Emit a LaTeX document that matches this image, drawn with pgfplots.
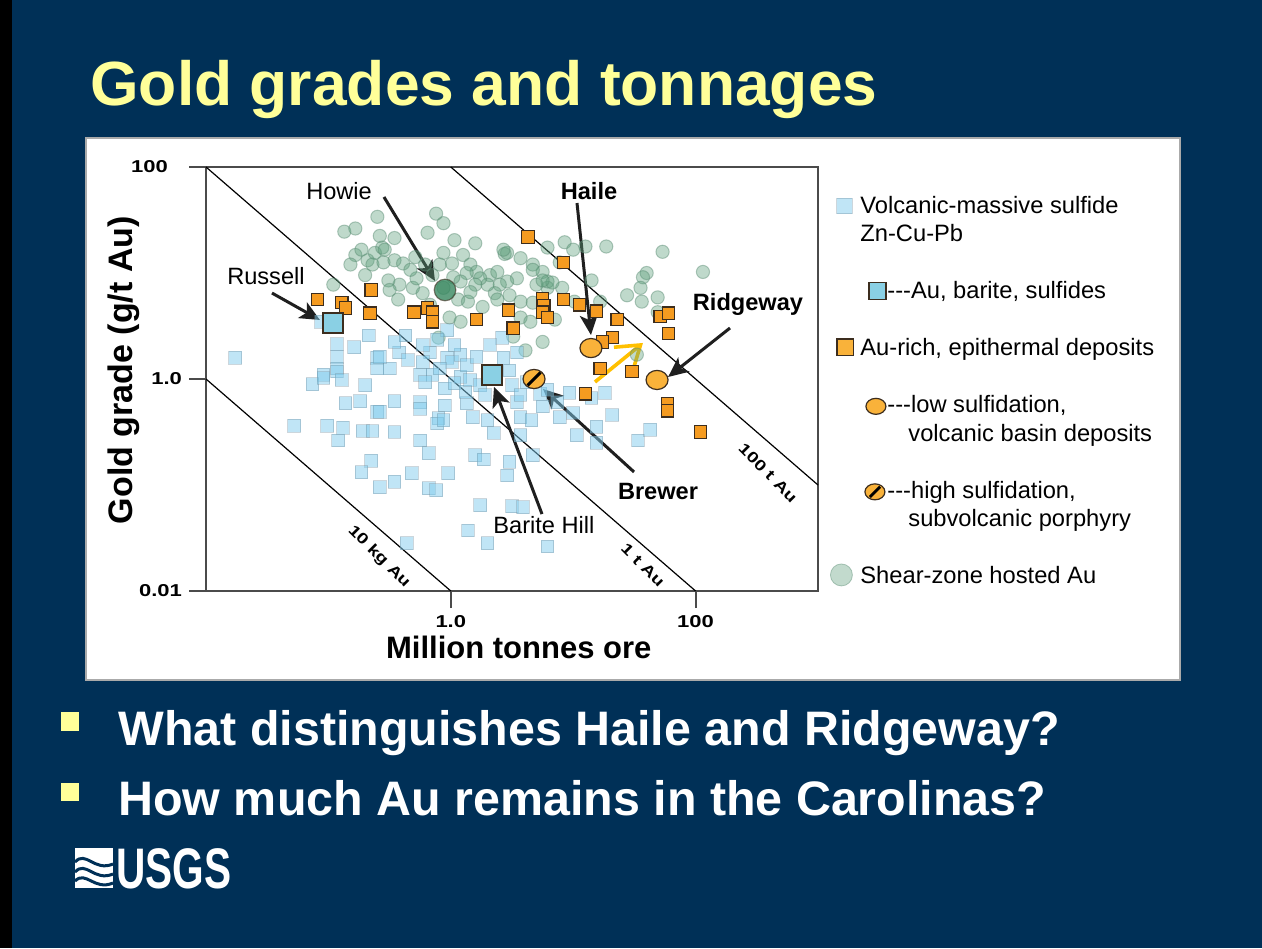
\documentclass[border=0pt]{standalone}
\usepackage{fontspec}
\setmainfont{Liberation Sans}
\newfontfamily\wideb[FakeStretch=1.28]{Liberation Sans Bold}
\usepackage{graphicx}
\usepackage{pgfplots}
\pgfplotsset{compat=1.18}
\usetikzlibrary{arrows.meta}
\definecolor{navy}{RGB}{0,48,87}
\definecolor{ttlyellow}{RGB}{255,255,153}
\definecolor{panelgray}{RGB}{170,170,170}
\definecolor{axgray}{RGB}{75,75,75}
\definecolor{vmsF}{RGB}{130,205,238}
\definecolor{vmsD}{RGB}{110,140,155}
\definecolor{grnF}{RGB}{95,160,125}
\definecolor{grnD}{RGB}{90,140,115}
\definecolor{ornF}{RGB}{245,155,32}
\definecolor{ornD}{RGB}{60,45,30}
\definecolor{lowF}{RGB}{249,178,58}
\definecolor{barF}{RGB}{138,208,228}
\definecolor{howF}{RGB}{55,135,95}
\definecolor{arrY}{RGB}{255,192,0}
\begin{document}
\begin{tikzpicture}[x=0.5pt,y=-0.5pt]
\useasboundingbox (0,0) rectangle (1262,948);
\fill[black] (0,0) rectangle (1262,948);
\fill[navy] (12,0) rectangle (1262,948);
\fill[white] (86,138) rectangle (1180,680);
\draw[panelgray, line width=0.6pt] (86,138) rectangle (1180,680);
\node[anchor=base west, inner sep=0, text=ttlyellow, font=\bfseries\fontsize{31.2}{36}\selectfont] at (90,105) {Gold grades and tonnages};
\fill[ttlyellow] (61,712) rectangle (79,731);
\fill[ttlyellow] (61,783) rectangle (79,801);
\node[anchor=base west, inner sep=0, text=white, font=\bfseries\fontsize{24.2}{29}\selectfont] at (118,745) {What distinguishes Haile and Ridgeway?};
\node[anchor=base west, inner sep=0, text=white, font=\bfseries\fontsize{24.2}{29}\selectfont] at (118,815) {How much Au remains in the Carolinas?};
% USGS logo
\fill[white] (75,848) rectangle (113,888);
\draw[navy, line width=1.5pt] (75,862) .. controls (86,850) and (94,872) .. (113,864);
\draw[navy, line width=1.5pt] (75,872) .. controls (86,860) and (94,882) .. (113,874);
\draw[navy, line width=1.5pt] (75,881) .. controls (86,870) and (94,891) .. (113,883);
\node[anchor=base west, inner sep=0, text=white, font=\bfseries\fontsize{28.6}{30}\selectfont] at (116,888) {\scalebox{0.71}[1]{USGS}};
\coordinate (axSW) at (206,591);
\begin{axis}[
  at={(axSW)}, anchor=south west,
  scale only axis, width=306pt, height=212pt,
  xmin=-2, xmax=3, ymin=-2, ymax=2,
  clip=false,
  axis line style={draw=axgray, line width=0.9pt},
  tick pos=left, tick align=outside,
  major tick length=8.5pt,
  tick style={draw=axgray, line width=0.9pt},
  xtick={0,2}, xticklabels={1.0,100},
  ytick={-2,0,2}, yticklabels={0.01,1.0,{100\hspace*{7pt}}},
  ticklabel style={font=\wideb\fontsize{8.6}{9}\selectfont},
  xlabel={Million tonnes ore}, ylabel={Gold grade (g/t Au)},
  xlabel style={at={(axis description cs:0.511,-0.132)}, anchor=center, font=\bfseries\fontsize{15.5}{18}\selectfont},
  ylabel style={at={(axis description cs:-0.134,0.521)}, anchor=center, font=\bfseries\fontsize{17}{20}\selectfont},
  legend style={at={(axis description cs:1.0278,0.934)}, anchor=north west, draw=none, fill=none,
    inner xsep=0pt, inner ysep=0pt, row sep=0pt, column sep=2.5pt,
    font=\fontsize{11.85}{14}\selectfont,
    nodes={inner sep=0pt, text height=9pt, text depth=5.25pt}},
  legend cell align=left,
]
% contour lines of constant gold content
\addplot[black, line width=0.6pt, forget plot] coordinates {(-2,0) (0,-2)};
\addplot[black, line width=0.6pt, forget plot] coordinates {(-2,2) (2,-2)};
\addplot[black, line width=0.6pt, forget plot] coordinates {(0,2) (3,-1)};
\node[rotate=-45, font=\wideb\fontsize{7.6}{8}\selectfont] at (axis cs:-0.587,-1.679) {10 kg Au};
\node[rotate=-45, font=\wideb\fontsize{7.6}{8}\selectfont] at (axis cs:1.570,-1.755) {1 t Au};
\node[rotate=-45, font=\wideb\fontsize{7.6}{8}\selectfont] at (axis cs:2.592,-0.887) {100 t Au};
% Shear-zone hosted Au
\addplot[only marks, forget plot, mark=*, mark size=3.3pt, mark options={fill=grnF, draw=grnD, fill opacity=0.4, draw opacity=0.45, line width=0.5pt}] coordinates {
(-0.87,1.39) (-0.78,1.42) (-0.60,1.53) (-0.58,1.35) (-0.78,1.17) (-0.73,1.22) (-0.68,1.12) (-0.62,1.19)
(-0.64,1.08) (-0.56,1.24) (-0.55,1.10) (-0.96,0.89) (-0.12,1.56) (-0.06,1.47) (-0.19,1.38) (-0.46,1.33)
(-0.54,1.22) (-0.46,1.12) (-0.39,1.09) (-0.29,1.15) (-0.06,1.19) (0.10,1.17) (0.01,1.09) (-0.09,1.08)
(0.16,1.08) (0.21,1.01) (0.32,0.98) (0.38,1.01) (0.44,1.18) (0.57,1.14) (0.67,1.08) (0.75,1.01)
(0.54,0.95) (0.46,0.92) (0.40,0.89) (0.36,0.81) (0.30,0.89) (0.24,0.95) (0.20,0.89) (0.13,1.00)
(0.08,0.92) (0.02,0.96) (-0.06,0.86) (-0.23,0.81) (-0.31,0.86) (-0.42,0.89) (-0.51,0.93) (-0.50,0.84)
(-0.28,0.95) (-0.15,0.98) (0.06,0.75) (0.14,0.73) (0.26,0.68) (0.38,0.75) (0.57,0.73) (0.57,0.58)
(0.67,0.72) (0.70,0.89) (0.79,0.86) (-0.01,0.58) (0.08,0.54) (-0.10,0.39) (0.75,0.35) (0.61,0.27)
(0.51,0.40) (0.79,0.92) (0.93,1.29) (1.00,1.22) (1.10,1.25) (1.27,1.25) (1.73,1.20) (2.06,1.01)
(1.60,1.00) (1.57,0.96) (1.15,0.93) (0.91,0.86) (0.83,0.91) (1.55,0.86) (1.44,0.79) (1.69,0.77)
(1.56,0.73) (1.69,0.63) (1.22,0.73) (1.01,0.73) (0.85,0.56) (1.52,0.23) (0.46,1.19) (0.43,1.22)
(0.79,1.24) (0.67,1.03) (0.75,0.93) (-0.33,1.03) (-0.21,1.08) (-0.43,0.75) (-0.17,0.70) (0.16,0.82)
(0.48,0.79) (0.65,0.54) (0.89,1.10) (-0.82,1.08) (-0.70,0.98) (0.03,1.31) (0.20,1.28)};
% Volcanic-massive sulfide Zn-Cu-Pb
\addplot[only marks, forget plot, mark=square*, mark size=3.2pt, mark options={fill=vmsF, draw=vmsD, fill opacity=0.5, draw opacity=0.35, line width=0.5pt}] coordinates {
(-1.76,0.20) (-1.06,0.54) (-0.67,0.41) (-0.93,0.33) (-0.79,0.30) (-0.93,0.21) (-0.60,0.20) (-0.93,0.10)
(-0.60,0.10) (-1.04,0.04) (-1.13,-0.05) (-1.04,0.01) (-0.93,0.07) (-0.86,-0.23) (-0.74,-0.21) (-0.60,-0.31)
(-1.28,-0.44) (-1.01,-0.44) (-0.88,-0.46) (-0.92,-0.58) (-0.72,-0.49) (-0.64,-0.49) (-0.65,-0.77) (-0.73,-0.88)
(-0.58,-1.02) (-0.36,-1.55) (-0.46,-0.21) (-0.25,-0.22) (-0.25,-0.28) (-0.05,-0.25) (-0.10,-0.37) (-0.11,-0.42)
(-0.46,-0.50) (-0.25,-0.58) (-0.18,-0.70) (-0.58,-0.31) (-0.32,-0.89) (-0.46,-0.97) (-0.18,-1.03) (-0.12,-1.05)
(-0.02,-0.89) (0.20,-0.72) (0.27,-0.76) (0.48,-0.78) (0.46,-0.91) (0.67,-0.72) (0.24,-1.19) (0.50,-1.20)
(0.59,-1.21) (0.14,-1.43) (0.30,-1.55) (0.79,-1.58) (-0.25,0.04) (-0.15,0.04) (0.08,0.02) (0.13,-0.23)
(0.18,-0.36) (0.30,-0.39) (0.35,-0.51) (0.54,-0.22) (0.57,-0.36) (0.66,-0.39) (0.57,-0.53) (-0.03,0.46)
(0.42,0.39) (0.32,0.32) (0.54,0.25) (0.43,0.20) (-0.42,0.25) (-0.35,0.18) (-0.17,0.25) (-0.03,0.20)
(0.01,0.16) (0.08,0.23) (0.13,0.13) (-0.09,0.10) (-0.50,0.10) (-0.58,0.21) (-0.23,0.16) (0.21,0.21)
(-0.21,-0.03) (-0.05,-0.09) (0.03,-0.04) (0.12,-0.12) (0.16,-0.01) (0.24,-0.06) (0.28,-0.15) (0.50,-0.06)
(0.57,-0.15) (0.62,-0.03) (0.73,-0.14) (0.79,-0.10) (0.97,-0.13) (1.15,-0.18) (1.26,-0.13) (1.32,-0.34)
(1.19,-0.45) (1.03,-0.53) (1.19,-0.60) (1.53,-0.58) (1.63,-0.48) (1.00,-0.32) (0.87,-0.22) (-0.06,-0.39)
(0.75,-0.26) (0.89,-0.36) (-0.89,-0.01) (0.48,0.08) (0.03,0.32) (-0.11,0.37) (-0.46,0.35) (-0.70,-0.06)
(-0.37,0.41) (-0.23,0.32)};
% Au-rich epithermal deposits
\addplot[only marks, forget plot, mark=square*, mark size=3.1pt, mark options={fill=ornF, draw=ornD, line width=0.6pt}] coordinates {
(-1.09,0.75) (-0.89,0.72) (-0.86,0.67) (-0.65,0.84) (-0.66,0.62) (0.63,1.34) (-0.30,0.63) (-0.19,0.67)
(-0.15,0.63) (-0.15,0.54) (0.21,0.56) (0.47,0.65) (0.51,0.48) (0.75,0.76) (0.76,0.69) (0.75,0.63)
(0.79,0.58) (0.92,1.10) (0.92,0.75) (1.05,0.70) (1.19,0.64) (1.36,0.56) (1.71,0.59) (1.78,0.62)
(1.78,0.43) (1.32,0.39) (1.24,0.35) (1.22,0.10) (1.48,0.07) (1.10,-0.14) (1.77,-0.23) (1.77,-0.30)
(2.04,-0.50)};
% Howie (shear zone)
\addplot[only marks, forget plot, mark=*, mark size=5.4pt, mark options={fill=howF, draw=ornD, fill opacity=0.8, draw opacity=0.6, line width=0.6pt}] coordinates {(-0.047,0.840)};
% Russell, Barite Hill
\addplot[only marks, forget plot, mark=square*, mark size=4.9pt, mark options={fill=barF, draw=ornD, line width=0.8pt}] coordinates {(-0.962,0.528) (0.337,0.038)};
% Haile, Ridgeway
\addplot[only marks, forget plot, mark=*, mark size=5.5pt, mark options={fill=lowF, draw=ornD, line width=0.6pt, yscale=0.87}] coordinates {(1.145,0.292) (1.685,-0.009)};
% Brewer
\addplot[only marks, forget plot, mark=*, mark size=5.5pt, mark options={fill=lowF, draw=ornD, line width=0.6pt, yscale=0.87}] coordinates {(0.680,0.0)};
\addplot[only marks, forget plot, mark=|, mark size=4.6pt, mark options={draw=black, line width=1.5pt, rotate=-45}] coordinates {(0.680,0.0)};
% annotations
\tikzset{arr/.style={line width=1.5pt, draw=black!88, -{Stealth[length=10pt,width=9pt,inset=2.5pt]}}}
\draw[arr] (axis cs:-0.546,1.717) -- (axis cs:-0.129,0.925);
\draw[arr] (axis cs:-1.461,0.811) -- (axis cs:-1.069,0.557);
\draw[arr] (axis cs:1.031,1.660) -- (axis cs:1.145,0.415);
\draw[arr] (axis cs:2.281,0.481) -- (axis cs:1.775,0.019);
\draw[arr] (axis cs:1.497,-0.877) -- (axis cs:0.753,-0.094);
\draw[arr] (axis cs:0.745,-1.274) -- (axis cs:0.353,-0.075);
\draw[arrY, line width=1.8pt, -{Straight Barb[length=11pt,width=15pt]}] (axis cs:1.178,-0.028) -- (axis cs:1.570,0.340);
\node[anchor=base, font=\fontsize{11.8}{14}\selectfont] at (axis cs:-0.913,1.689) {Howie};
\node[anchor=base, font=\fontsize{11.8}{14}\selectfont] at (axis cs:-1.510,0.887) {Russell};
\node[anchor=base, font=\bfseries\fontsize{11.8}{14}\selectfont] at (axis cs:1.129,1.689) {Haile};
\node[anchor=base, font=\bfseries\fontsize{11.8}{14}\selectfont] at (axis cs:2.428,0.642) {Ridgeway};
\node[anchor=base, font=\bfseries\fontsize{11.8}{14}\selectfont] at (axis cs:1.693,-1.132) {Brewer};
\node[anchor=base, font=\fontsize{11.8}{14}\selectfont] at (axis cs:0.761,-1.462) {Barite Hill};
% legend
\addlegendimage{legend image code/.code={\path[draw=none,fill=none] (0pt,-2pt) rectangle (10pt,2pt);
  \path[overlay, mark=square*, mark size=3.9pt, mark options={fill=vmsF, draw=vmsD, fill opacity=0.5, draw opacity=0.35}] plot coordinates {(4.5pt,1.9pt)};}}
\addlegendentry{Volcanic-massive sulfide}
\addlegendimage{empty legend}
\addlegendentry{Zn-Cu-Pb}
\addlegendimage{empty legend}
\addlegendentry{\phantom{x}}
\addlegendimage{legend image code/.code={\path[draw=none,fill=none] (0pt,-2pt) rectangle (10pt,2pt);
  \path[overlay, mark=square*, mark size=4.3pt, mark options={fill=barF, draw=ornD, line width=0.8pt}] plot coordinates {(21pt,2.1pt)};}}
\addlegendentry{\hspace*{13.5pt}-{}-{}-Au, barite, sulfides}
\addlegendimage{empty legend}
\addlegendentry{\phantom{x}}
\addlegendimage{legend image code/.code={\path[draw=none,fill=none] (0pt,-2pt) rectangle (10pt,2pt);
  \path[overlay, mark=square*, mark size=4.2pt, mark options={fill=lowF, draw=ornD, line width=0.6pt}] plot coordinates {(5pt,2.4pt)};}}
\addlegendentry{Au-rich, epithermal deposits}
\addlegendimage{empty legend}
\addlegendentry{\phantom{x}}
\addlegendimage{legend image code/.code={\path[draw=none,fill=none] (0pt,-2pt) rectangle (10pt,2pt);
  \path[overlay, mark=*, mark size=5pt, mark options={fill=lowF, draw=ornD, line width=0.6pt, yscale=0.8}] plot coordinates {(20.25pt,1.4pt)};}}
\addlegendentry{\hspace*{13.5pt}-{}-{}-low sulfidation,}
\addlegendimage{empty legend}
\addlegendentry{\hspace*{24pt}volcanic basin deposits}
\addlegendimage{empty legend}
\addlegendentry{\phantom{x}}
\addlegendimage{legend image code/.code={\path[draw=none,fill=none] (0pt,-2pt) rectangle (10pt,2pt);
  \path[overlay, mark=*, mark size=5pt, mark options={fill=lowF, draw=ornD, line width=0.6pt, yscale=0.8}] plot coordinates {(19.75pt,1.4pt)};
  \path[overlay, mark=|, mark size=3.6pt, mark options={draw=black, line width=1.4pt, rotate=-45}] plot coordinates {(19.75pt,1.4pt)};}}
\addlegendentry{\hspace*{13.5pt}-{}-{}-high sulfidation,}
\addlegendimage{empty legend}
\addlegendentry{\hspace*{24pt}subvolcanic porphyry}
\addlegendimage{empty legend}
\addlegendentry{\phantom{x}}
\addlegendimage{legend image code/.code={\path[draw=none,fill=none] (0pt,-2pt) rectangle (10pt,2pt);
  \path[overlay, mark=*, mark size=5.5pt, mark options={fill=grnF, draw=grnD, fill opacity=0.38, draw opacity=0.45}] plot coordinates {(3pt,2.6pt)};}}
\addlegendentry{Shear-zone hosted Au}
\end{axis}
\end{tikzpicture}
\end{document}
